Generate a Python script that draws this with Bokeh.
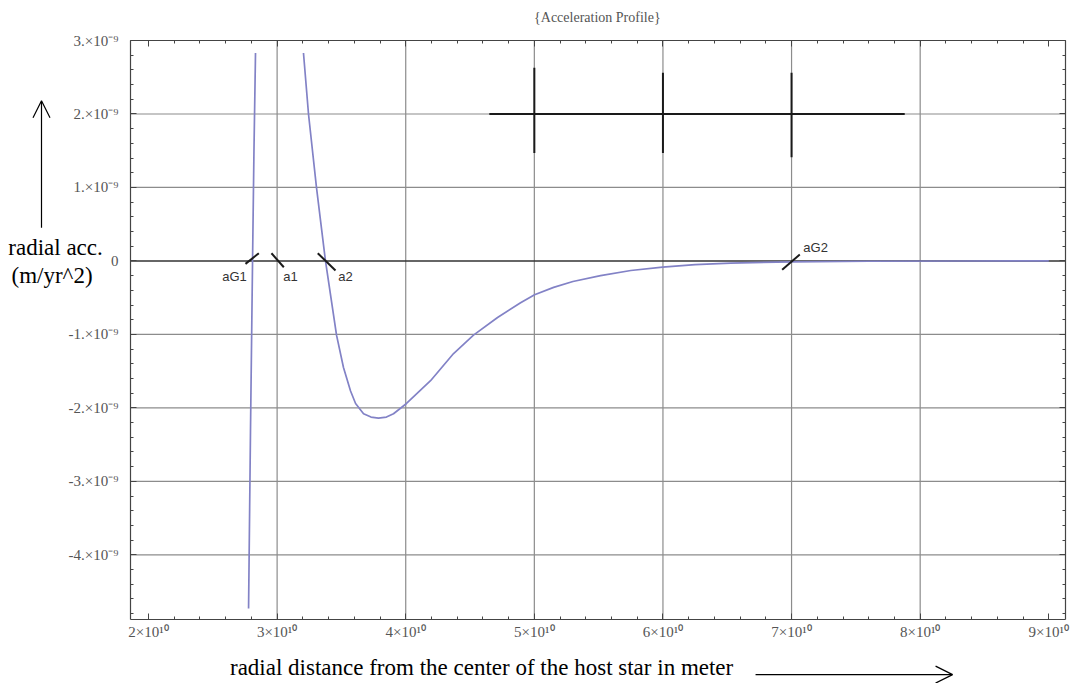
from bokeh.plotting import figure
from bokeh.models import (FixedTicker, LinearAxis, Label, Arrow, OpenHead, Range1d)
from bokeh.embed import file_html
from bokeh.resources import INLINE
import numpy as np

E10 = 1e10
E9 = 1e-9

# ---- data ----
branch1_x = [2.778, 2.793, 2.809, 2.820, 2.832]
branch1_y = [-4.73, -2.31, 0.00, 1.50, 2.83]

branch2_x = [3.205, 3.244, 3.306, 3.376, 3.462, 3.516, 3.571, 3.610, 3.672, 3.730,
             3.788, 3.850, 3.905, 4.006, 4.193, 4.372, 4.527, 4.714, 4.893, 5.002,
             5.150, 5.300, 5.515, 5.750, 5.997, 6.250, 6.526, 7.000, 7.600, 8.300,
             9.000]
branch2_y = [2.83, 2.00, 1.00, 0.00, -1.01, -1.45, -1.77, -1.94, -2.08, -2.125,
             -2.14, -2.125, -2.08, -1.94, -1.63, -1.26, -1.01, -0.77, -0.57, -0.46,
             -0.36, -0.28, -0.20, -0.13, -0.085, -0.05, -0.03, -0.012, -0.004, -0.001,
             0.0]

root_names = ["aG1", "a1", "a2", "aG2"]
mark_x0 = [2.754, 2.956, 3.316, 6.927]
mark_y0 = [-0.04, 0.105, 0.105, -0.12]
mark_x1 = [2.858, 3.052, 3.454, 7.064]
mark_y1 = [0.105, -0.086, -0.13, 0.087]
name_x = [2.669, 3.104, 3.532, 7.187]
name_y = [-0.21, -0.21, -0.21, 0.18]

cross_h_x = [4.65, 7.88]
cross_h_y = 2.0
cross_v_x = [5.0, 6.0, 7.0]
cross_v_top = [2.63, 2.56, 2.56]
cross_v_bot = [1.47, 1.47, 1.41]

x_ticks = [2, 3, 4, 5, 6, 7, 8, 9]
x_tick_labels = ["2×10¹⁰", "3×10¹⁰", "4×10¹⁰", "5×10¹⁰", "6×10¹⁰", "7×10¹⁰", "8×10¹⁰", "9×10¹⁰"]
y_ticks = [-4, -3, -2, -1, 0, 1, 2, 3]
y_tick_labels = ["-4.×10⁻⁹", "-3.×10⁻⁹", "-2.×10⁻⁹", "-1.×10⁻⁹", "0", "1.×10⁻⁹", "2.×10⁻⁹", "3.×10⁻⁹"]
x_grid = [3, 4, 5, 6, 7, 8]
y_grid = [-4, -3, -2, -1, 1, 2]

title_text = "{Acceleration Profile}"
x_label = "radial distance from the center of the host star in meter"
y_label_1 = "radial acc."
y_label_2 = "(m/yr^2)"

SERIF = "Liberation Serif"

# ---- layout: plot box inside a full-canvas frame ----
W, H = 1075, 683
BOX_L, BOX_R, BOX_T, BOX_B = 130, 1065, 40, 619      # pixels of the plot box
X0, X1 = 1.86, 9.13                                   # box range, units of 1e10
Y0, Y1 = -4.88, 3.0                                   # box range, units of 1e-9
kx = (BOX_R - BOX_L) / (X1 - X0)
ky = (BOX_B - BOX_T) / (Y1 - Y0)
xr = Range1d((X0 - BOX_L / kx) * E10, (X1 + (W - BOX_R) / kx) * E10)
yr = Range1d((Y0 - (H - BOX_B) / ky) * E9, (Y1 + BOX_T / ky) * E9)

p = figure(width=W, height=H, output_backend="svg", toolbar_location=None,
           x_range=xr, y_range=yr, min_border=0,
           x_axis_location=None, y_axis_location=None)
p.outline_line_color = None
p.background_fill_color = "white"
p.border_fill_color = "white"
p.xgrid.visible = False
p.ygrid.visible = False

xt = [v * E10 for v in x_ticks]
yt = [v * E9 for v in y_ticks]
x_minor = [v * E10 for v in np.arange(2.0, 9.11, 0.2)]
y_minor = [v * E9 for v in np.arange(-4.8, 3.01, 0.2)]
xbounds = (X0 * E10, X1 * E10)
ybounds = (Y0 * E9, Y1 * E9)


def style_axis(ax):
    ax.axis_line_color = "#444444"
    ax.axis_line_width = 1.2
    ax.major_tick_in = 6
    ax.major_tick_out = 0
    ax.minor_tick_in = 3
    ax.minor_tick_out = 0
    ax.major_tick_line_color = "#444444"
    ax.minor_tick_line_color = "#444444"
    ax.major_label_text_font = SERIF
    ax.major_label_text_font_size = "15px"
    ax.major_label_text_color = "#555555"


xb = LinearAxis(ticker=FixedTicker(ticks=xt, minor_ticks=x_minor), bounds=xbounds,
                fixed_location=Y0 * E9,
                major_label_overrides={t: s for t, s in zip(xt, x_tick_labels)})
style_axis(xb)
xb.major_label_standoff = 4
p.add_layout(xb, "below")

xa = LinearAxis(ticker=FixedTicker(ticks=xt, minor_ticks=x_minor), bounds=xbounds,
                fixed_location=Y1 * E9,
                major_label_overrides={t: "" for t in xt})
style_axis(xa)
p.add_layout(xa, "above")

yl = LinearAxis(ticker=FixedTicker(ticks=yt, minor_ticks=y_minor), bounds=ybounds,
                fixed_location=X0 * E10,
                major_label_overrides={t: s for t, s in zip(yt, y_tick_labels)})
style_axis(yl)
yl.major_label_standoff = 12
p.add_layout(yl, "left")

yrt = LinearAxis(ticker=FixedTicker(ticks=yt, minor_ticks=y_minor), bounds=ybounds,
                 fixed_location=X1 * E10,
                 major_label_overrides={t: "" for t in yt})
style_axis(yrt)
p.add_layout(yrt, "right")

# grid lines inside the box
p.segment(x0=[v * E10 for v in x_grid], y0=Y0 * E9, x1=[v * E10 for v in x_grid], y1=Y1 * E9,
          line_color="#8c8c8c", line_width=1.2)
p.segment(x0=X0 * E10, y0=[v * E9 for v in y_grid], x1=X1 * E10, y1=[v * E9 for v in y_grid],
          line_color="#8c8c8c", line_width=1.2)

# zero axis line
p.segment(x0=[X0 * E10], y0=[0], x1=[X1 * E10], y1=[0], line_color="#333333", line_width=1.5)

# curve
p.line([v * E10 for v in branch1_x], [v * E9 for v in branch1_y],
       line_color="#8282c6", line_width=1.7)
p.line([v * E10 for v in branch2_x], [v * E9 for v in branch2_y],
       line_color="#8282c6", line_width=1.7)

# root markers
p.segment(x0=[v * E10 for v in mark_x0], y0=[v * E9 for v in mark_y0],
          x1=[v * E10 for v in mark_x1], y1=[v * E9 for v in mark_y1],
          line_color="#1a1a1a", line_width=2)
for nm, nx, ny in zip(root_names, name_x, name_y):
    p.add_layout(Label(x=nx * E10, y=ny * E9, text=nm, text_align="center",
                       text_baseline="middle", text_font="Liberation Sans",
                       text_font_size="13px", text_color="#333333"))

# cross shape
p.segment(x0=[cross_h_x[0] * E10], y0=[cross_h_y * E9], x1=[cross_h_x[1] * E10],
          y1=[cross_h_y * E9], line_color="#1a1a1a", line_width=2)
p.segment(x0=[v * E10 for v in cross_v_x], y0=[v * E9 for v in cross_v_bot],
          x1=[v * E10 for v in cross_v_x], y1=[v * E9 for v in cross_v_top],
          line_color="#1a1a1a", line_width=2)

# title
p.add_layout(Label(x=5.49 * E10, y=3.31 * E9, text=title_text, text_align="center",
                   text_baseline="middle", text_font=SERIF, text_font_size="14px",
                   text_color="#555555"))

# y label and arrow
p.add_layout(Label(x=1.277 * E10, y=0.18 * E9, text=y_label_1, text_align="center",
                   text_baseline="middle", text_font=SERIF, text_font_size="23px",
                   text_color="black"))
p.add_layout(Label(x=1.250 * E10, y=-0.20 * E9, text=y_label_2, text_align="center",
                   text_baseline="middle", text_font=SERIF, text_font_size="23px",
                   text_color="black"))
p.add_layout(Arrow(x_start=1.168 * E10, y_start=0.45 * E9, x_end=1.168 * E10, y_end=2.18 * E9,
                   line_color="black", line_width=1.2,
                   end=OpenHead(size=17, line_color="black", line_width=1.2)))

# x label and arrow
p.add_layout(Label(x=4.59 * E10, y=-5.54 * E9, text=x_label, text_align="center",
                   text_baseline="middle", text_font=SERIF, text_font_size="23px",
                   text_color="black"))
p.add_layout(Arrow(x_start=6.72 * E10, y_start=-5.63 * E9, x_end=8.252 * E10, y_end=-5.63 * E9,
                   line_color="black", line_width=1.2,
                   end=OpenHead(size=17, line_color="black", line_width=1.2)))

open("out.html", "w").write(file_html(p, INLINE))
